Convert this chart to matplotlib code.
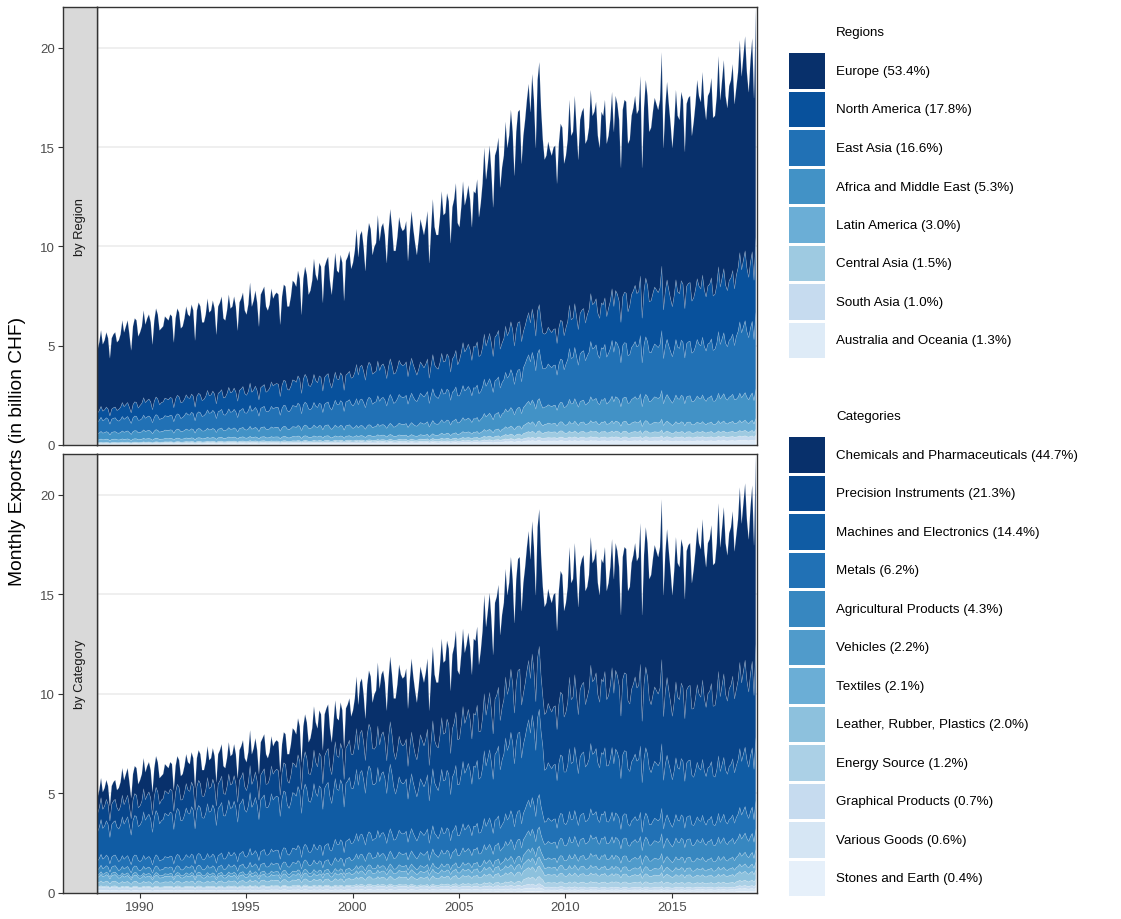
import numpy as np
import matplotlib.pyplot as plt
from matplotlib.patches import Rectangle

# monthly total exports, billion CHF, one row per year (Jan..Dec), 1988-2018
years = list(range(1988, 2019))
monthly_total = [
    [4.8, 5.2, 5.8, 5.1, 5.3, 5.7, 5.4, 4.4, 5.4, 5.6, 5.7, 5.2],
    [5.3, 5.6, 6.3, 5.7, 6.0, 6.3, 5.6, 4.8, 6.0, 6.4, 6.3, 5.5],
    [5.7, 6.0, 6.8, 6.1, 6.4, 6.6, 6.2, 5.1, 6.3, 6.9, 6.6, 5.8],
    [5.9, 6.0, 6.5, 6.4, 6.3, 6.6, 6.5, 5.2, 6.4, 6.9, 6.7, 5.9],
    [6.0, 6.4, 7.0, 6.6, 6.5, 7.1, 6.8, 5.3, 6.8, 7.2, 7.0, 6.2],
    [6.2, 6.6, 7.4, 6.7, 6.8, 7.3, 6.9, 5.6, 7.0, 7.2, 7.5, 6.4],
    [6.3, 6.8, 7.6, 6.9, 7.0, 7.5, 7.0, 5.8, 7.2, 7.4, 7.7, 6.8],
    [6.6, 7.1, 8.2, 7.0, 7.3, 7.8, 7.2, 6.0, 7.6, 7.8, 8.0, 7.0],
    [6.8, 7.1, 7.9, 7.4, 7.6, 7.7, 7.6, 6.1, 7.5, 8.1, 8.0, 7.0],
    [7.0, 7.5, 8.3, 8.2, 8.0, 8.8, 8.4, 6.6, 8.4, 9.0, 8.6, 7.6],
    [7.8, 8.3, 9.4, 8.6, 8.3, 9.2, 9.0, 7.2, 9.0, 9.3, 9.5, 8.3],
    [7.6, 8.6, 9.7, 8.8, 8.7, 9.6, 9.2, 7.3, 9.3, 9.5, 9.8, 8.9],
    [9.2, 9.8, 10.9, 9.5, 10.6, 10.8, 10.0, 8.8, 10.5, 11.2, 10.9, 9.6],
    [10.0, 10.2, 11.6, 10.3, 11.0, 11.2, 10.6, 9.2, 10.8, 11.9, 11.0, 9.8],
    [9.8, 10.5, 11.5, 11.0, 10.8, 10.9, 11.3, 9.3, 10.7, 11.8, 10.9, 10.2],
    [9.6, 10.4, 11.4, 11.0, 10.6, 11.1, 11.8, 9.2, 10.9, 12.4, 11.0, 10.6],
    [10.6, 11.5, 12.8, 11.6, 11.7, 12.7, 12.3, 10.2, 12.0, 12.4, 13.2, 11.2],
    [11.0, 12.0, 13.3, 12.1, 12.5, 13.1, 12.4, 11.0, 12.8, 12.7, 13.4, 11.5],
    [12.2, 13.2, 15.0, 13.4, 14.2, 15.1, 13.8, 12.0, 14.6, 14.9, 15.5, 13.0],
    [14.0, 14.6, 16.3, 15.0, 15.6, 16.9, 15.8, 13.6, 15.8, 16.8, 16.9, 14.2],
    [15.6, 16.4, 17.4, 18.2, 16.8, 18.7, 17.4, 15.0, 18.4, 19.3, 17.0, 15.4],
    [14.4, 14.6, 15.3, 14.9, 14.6, 15.0, 15.1, 13.2, 15.2, 16.2, 16.0, 14.2],
    [14.6, 15.4, 17.4, 15.6, 15.8, 17.6, 16.0, 14.4, 16.4, 16.8, 17.0, 15.2],
    [15.4, 16.0, 17.9, 16.6, 16.8, 17.3, 15.6, 15.0, 16.8, 16.6, 17.4, 15.2],
    [15.6, 16.4, 17.8, 15.8, 17.6, 17.2, 16.4, 14.0, 16.9, 17.4, 17.3, 15.2],
    [15.4, 16.6, 17.0, 17.6, 16.7, 16.9, 18.6, 14.0, 17.0, 18.4, 17.6, 15.8],
    [16.0, 16.8, 17.5, 17.2, 16.9, 17.4, 19.8, 15.0, 17.1, 18.3, 17.2, 16.2],
    [15.0, 16.2, 17.9, 16.6, 16.4, 17.8, 17.4, 14.8, 17.2, 17.5, 17.6, 15.6],
    [16.3, 17.2, 18.4, 17.6, 17.3, 18.8, 17.2, 16.4, 17.6, 17.8, 18.5, 16.5],
    [16.6, 17.6, 19.6, 17.4, 18.4, 19.4, 17.6, 17.0, 18.1, 18.4, 19.2, 17.2],
    [18.0, 18.8, 20.4, 18.6, 19.6, 20.6, 18.8, 17.8, 19.4, 20.5, 17.5, 22.0],
]

# yearly level (billion CHF / month) of each region; Europe is the remainder
north_america = [0.5, 0.65, 0.8, 0.85, 0.85, 0.9, 1.0, 1.0, 1.15, 1.25, 1.3, 1.3, 1.6, 1.6, 1.6,
                 1.5, 1.65, 2.0, 2.1, 2.2, 2.0, 1.8, 2.0, 2.2, 2.4, 2.7, 2.8, 2.8, 2.9, 3.0, 3.3]
east_asia = [0.65, 0.67, 0.68, 0.70, 0.77, 0.85, 0.87, 0.94, 0.97, 1.03, 1.05, 1.15, 1.25, 1.3, 1.35,
             1.4, 1.45, 1.5, 1.6, 1.75, 2.2, 2.0, 2.35, 2.55, 2.6, 2.65, 2.6, 2.6, 2.7, 2.85, 3.4]
africa_me = [0.35, 0.37, 0.39, 0.41, 0.42, 0.42, 0.43, 0.45, 0.46, 0.48, 0.50, 0.50, 0.48, 0.50, 0.55,
             0.58, 0.62, 0.65, 0.75, 0.85, 1.0, 0.9, 1.03, 1.1, 1.15, 1.2, 1.25, 1.25, 1.25, 1.28, 1.3]
latin_america = [0.15, 0.15, 0.16, 0.16, 0.17, 0.18, 0.19, 0.19, 0.20, 0.21, 0.21, 0.20, 0.21, 0.22, 0.21,
                 0.21, 0.24, 0.27, 0.31, 0.37, 0.44, 0.42, 0.45, 0.47, 0.47, 0.47, 0.47, 0.46, 0.45, 0.47, 0.48]
central_asia = [0.04, 0.04, 0.04, 0.04, 0.05, 0.05, 0.05, 0.06, 0.06, 0.06, 0.07, 0.07, 0.07, 0.08, 0.09,
                0.10, 0.12, 0.14, 0.17, 0.21, 0.28, 0.29, 0.27, 0.27, 0.27, 0.27, 0.26, 0.25, 0.25, 0.25, 0.26]
south_asia = [0.04, 0.04, 0.05, 0.05, 0.05, 0.05, 0.06, 0.06, 0.06, 0.06, 0.06, 0.06, 0.07, 0.07, 0.07,
              0.07, 0.08, 0.09, 0.11, 0.13, 0.15, 0.16, 0.17, 0.18, 0.18, 0.18, 0.19, 0.19, 0.19, 0.19, 0.20]
oceania = [0.07, 0.08, 0.08, 0.09, 0.09, 0.10, 0.10, 0.10, 0.10, 0.11, 0.11, 0.12, 0.12, 0.13, 0.13,
           0.14, 0.14, 0.15, 0.16, 0.19, 0.23, 0.23, 0.23, 0.23, 0.23, 0.23, 0.23, 0.22, 0.23, 0.24, 0.26]

# yearly level of each category; Chemicals and Pharmaceuticals is the remainder
precision = [1.0, 1.0, 1.05, 1.1, 1.15, 1.2, 1.2, 1.2, 1.3, 1.45, 1.55, 1.7, 1.9, 1.9, 1.9,
             2.1, 2.4, 2.55, 2.65, 2.9, 2.8, 2.9, 3.3, 3.6, 3.7, 3.7, 3.65, 3.55, 3.7, 3.9, 4.1]
machines = [1.6, 1.8, 2.0, 2.1, 2.2, 2.3, 2.4, 2.5, 2.6, 2.7, 2.8, 2.8, 3.0, 2.9, 2.5,
            2.5, 2.7, 2.9, 3.15, 3.6, 3.8, 2.7, 2.9, 3.0, 3.0, 3.0, 2.8, 2.65, 2.6, 2.65, 2.8]
metals = [0.50, 0.50, 0.50, 0.52, 0.54, 0.55, 0.58, 0.62, 0.65, 0.70, 0.74, 0.85, 0.95, 1.00, 1.02,
          1.02, 1.05, 1.12, 1.22, 1.32, 1.45, 1.15, 1.18, 1.20, 1.15, 1.10, 1.10, 1.10, 1.08, 1.10, 1.25]
agricultural = [0.30, 0.30, 0.30, 0.31, 0.32, 0.33, 0.35, 0.37, 0.39, 0.42, 0.44, 0.50, 0.55, 0.58, 0.60,
                0.62, 0.64, 0.68, 0.72, 0.78, 0.86, 0.80, 0.82, 0.85, 0.85, 0.85, 0.86, 0.88, 0.88, 0.88, 0.90]
vehicles = [0.12, 0.12, 0.12, 0.12, 0.13, 0.13, 0.14, 0.15, 0.16, 0.17, 0.18, 0.20, 0.24, 0.25, 0.26,
            0.27, 0.28, 0.30, 0.33, 0.38, 0.48, 0.45, 0.50, 0.55, 0.52, 0.50, 0.50, 0.50, 0.50, 0.50, 0.55]
textiles = [0.30, 0.28, 0.27, 0.27, 0.27, 0.26, 0.26, 0.26, 0.26, 0.26, 0.26, 0.27, 0.30, 0.30, 0.30,
            0.29, 0.29, 0.30, 0.32, 0.34, 0.40, 0.36, 0.36, 0.35, 0.34, 0.33, 0.33, 0.33, 0.32, 0.33, 0.35]
leather = [0.22, 0.22, 0.22, 0.22, 0.23, 0.23, 0.24, 0.25, 0.26, 0.27, 0.28, 0.30, 0.34, 0.35, 0.36,
           0.36, 0.37, 0.38, 0.40, 0.43, 0.47, 0.40, 0.40, 0.40, 0.38, 0.37, 0.37, 0.37, 0.36, 0.37, 0.42]
energy = [0.05, 0.05, 0.05, 0.05, 0.05, 0.05, 0.05, 0.05, 0.05, 0.06, 0.06, 0.06, 0.08, 0.08, 0.08,
          0.08, 0.10, 0.12, 0.15, 0.18, 0.32, 0.22, 0.23, 0.25, 0.25, 0.24, 0.24, 0.22, 0.21, 0.22, 0.25]
graphical = [0.15, 0.14, 0.14, 0.14, 0.14, 0.14, 0.15, 0.15, 0.15, 0.15, 0.15, 0.15, 0.16, 0.16, 0.16,
             0.15, 0.15, 0.15, 0.15, 0.16, 0.18, 0.14, 0.13, 0.12, 0.12, 0.12, 0.12, 0.12, 0.12, 0.12, 0.14]
various = [0.10, 0.09, 0.09, 0.10, 0.10, 0.10, 0.10, 0.11, 0.11, 0.11, 0.11, 0.11, 0.12, 0.12, 0.12,
           0.12, 0.13, 0.13, 0.13, 0.14, 0.16, 0.10, 0.10, 0.10, 0.10, 0.10, 0.10, 0.10, 0.11, 0.11, 0.14]
stones = [0.06, 0.06, 0.06, 0.06, 0.06, 0.06, 0.06, 0.06, 0.07, 0.07, 0.07, 0.07, 0.07, 0.07, 0.07,
          0.07, 0.07, 0.07, 0.08, 0.08, 0.10, 0.08, 0.08, 0.08, 0.08, 0.08, 0.08, 0.08, 0.08, 0.08, 0.10]

region_labels = ['Europe (53.4%)', 'North America (17.8%)', 'East Asia (16.6%)',
                 'Africa and Middle East (5.3%)', 'Latin America (3.0%)', 'Central Asia (1.5%)',
                 'South Asia (1.0%)', 'Australia and Oceania (1.3%)']
region_colors = ['#08306B', '#08519C', '#2171B5', '#4292C6', '#6BAED6', '#9ECAE1', '#C6DBEF', '#DEEBF7']

category_labels = ['Chemicals and Pharmaceuticals (44.7%)', 'Precision Instruments (21.3%)',
                   'Machines and Electronics (14.4%)', 'Metals (6.2%)', 'Agricultural Products (4.3%)',
                   'Vehicles (2.2%)', 'Textiles (2.1%)', 'Leather, Rubber, Plastics (2.0%)',
                   'Energy Source (1.2%)', 'Graphical Products (0.7%)', 'Various Goods (0.6%)',
                   'Stones and Earth (0.4%)']
category_colors = ['#08306B', '#08468C', '#105CA4', '#2171B5', '#3787C0', '#509BCB',
                   '#6BAED6', '#8DC1DD', '#ABD0E6', '#C6DBEF', '#D6E6F4', '#E6F0FA']

# ---- build monthly series ----
tot = np.array(monthly_total)
rel = tot / tot.mean(axis=1, keepdims=True)
total = tot.flatten()
x = np.array([y + m / 12 for y in years for m in range(12)])


def monthly(level):
    return (np.array(level)[:, None] * rel).flatten()


def with_remainder(levels):
    parts = [monthly(l) for l in levels]
    return [total - np.sum(parts, axis=0)] + parts


region_series = with_remainder([north_america, east_asia, africa_me, latin_america,
                                central_asia, south_asia, oceania])
category_series = with_remainder([precision, machines, metals, agricultural, vehicles, textiles,
                                  leather, energy, graphical, various, stones])

# ---- figure ----
plt.rcParams['font.family'] = ['Liberation Sans', 'DejaVu Sans']
W, H = 1121, 920
fig = plt.figure(figsize=(W / 100, H / 100), dpi=100)


def box(x0, y0, x1, y1):
    return [x0 / W, 1 - y1 / H, (x1 - x0) / W, (y1 - y0) / H]


border = '#333333'
panels = [(8, 446, 'by Region', region_series, region_colors),
          (455, 894, 'by Category', category_series, category_colors)]

for i, (top, bot, strip, series, colors) in enumerate(panels):
    ax = fig.add_axes(box(97, top, 757, bot))
    sax = fig.add_axes(box(62.5, top, 97, bot), sharey=ax)

    ax.stackplot(x, *series[::-1], colors=colors[::-1],
                 edgecolor=(1, 1, 1, 0.2), linewidth=0.5)
    ax.set_xlim(x[0], x[-1] + 0.08)
    ax.set_ylim(0, total.max() + 0.05)
    ax.set_yticks([0, 5, 10, 15, 20])
    ax.yaxis.grid(True, color='#EBEBEB', linewidth=1.1)
    ax.set_axisbelow(True)
    ax.tick_params(axis='y', left=False, labelleft=False)
    for s in ax.spines.values():
        s.set_color(border)
        s.set_linewidth(1.0)
    if i == 0:
        ax.tick_params(axis='x', bottom=False, labelbottom=False)
    else:
        ax.set_xticks([1990, 1995, 2000, 2005, 2010, 2015])
        ax.tick_params(axis='x', length=3.5, width=0.8, color=border,
                       labelsize=9.5, labelcolor='#4D4D4D', pad=2)

    sax.set_facecolor('#D9D9D9')
    sax.set_xticks([])
    sax.tick_params(axis='y', length=3.5, width=0.8, color=border,
                    labelsize=9.5, labelcolor='#4D4D4D', pad=2)
    for s in sax.spines.values():
        s.set_color(border)
        s.set_linewidth(1.0)
    sax.text(0.5, 0.5, strip, rotation=90, ha='center', va='center',
             fontsize=9.3, color='#1A1A1A', transform=sax.transAxes)

fig.text(18 / W, 1 - 451 / H, 'Monthly Exports (in billion CHF)', rotation=90,
         ha='center', va='center', fontsize=13.8, color='black')

# ---- legends ----
lax = fig.add_axes([0, 0, 1, 1])
lax.set_xlim(0, W)
lax.set_ylim(H, 0)
lax.axis('off')
legends = [(33, 72, 'Regions', region_labels, region_colors),
           (417, 456, 'Categories', category_labels, category_colors)]
for title_y, first_y, title, labels, colors in legends:
    lax.text(836, title_y, title, ha='left', va='center', fontsize=9.6, color='black')
    for k, (lab, col) in enumerate(zip(labels, colors)):
        cy = first_y + 38.5 * k
        lax.add_patch(Rectangle((789, cy - 17.8), 36, 35.6, facecolor=col, edgecolor='none'))
        lax.text(836, cy, lab, ha='left', va='center', fontsize=9.6, color='black')

fig.savefig('out.png', dpi=100)
